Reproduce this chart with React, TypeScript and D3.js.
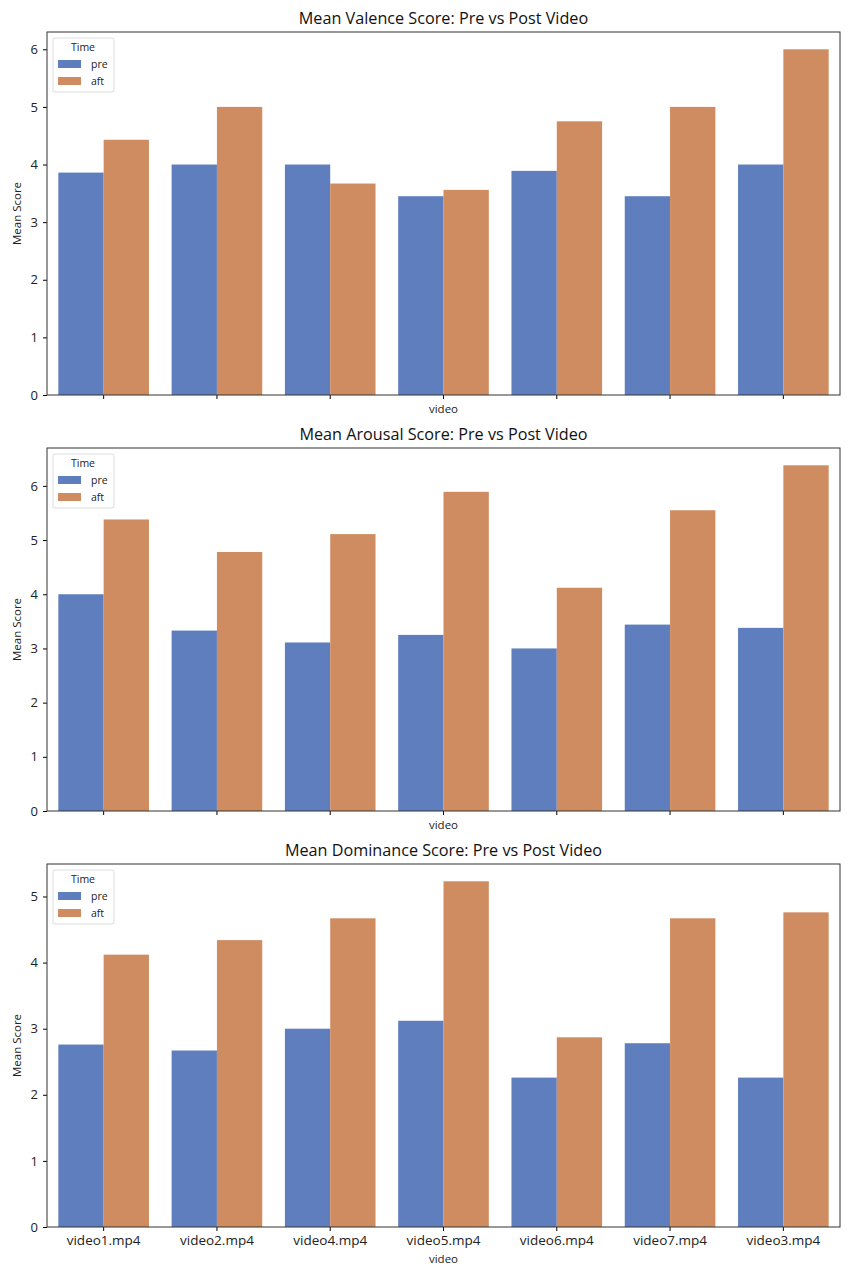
import React, { useEffect, useRef } from "react";
import * as d3 from "d3";

const videos = [
  "video1.mp4",
  "video2.mp4",
  "video4.mp4",
  "video5.mp4",
  "video6.mp4",
  "video7.mp4",
  "video3.mp4",
];
const timeGroups = ["pre", "aft"];

const valencePre = [3.86, 4.0, 4.0, 3.45, 3.89, 3.45, 4.0];
const valenceAft = [4.43, 5.0, 3.67, 3.56, 4.75, 5.0, 6.0];
const arousalPre = [4.0, 3.33, 3.11, 3.25, 3.0, 3.44, 3.38];
const arousalAft = [5.38, 4.78, 5.11, 5.89, 4.12, 5.55, 6.38];
const dominancePre = [2.76, 2.67, 3.0, 3.12, 2.26, 2.78, 2.26];
const dominanceAft = [4.12, 4.34, 4.67, 5.23, 2.87, 4.67, 4.76];

const panels = [
  { title: "Mean Valence Score: Pre vs Post Video", pre: valencePre, aft: valenceAft, ticks: [0, 1, 2, 3, 4, 5, 6] },
  { title: "Mean Arousal Score: Pre vs Post Video", pre: arousalPre, aft: arousalAft, ticks: [0, 1, 2, 3, 4, 5, 6] },
  { title: "Mean Dominance Score: Pre vs Post Video", pre: dominancePre, aft: dominanceAft, ticks: [0, 1, 2, 3, 4, 5] },
];

const colors = ["#5f7ebe", "#cf8c60"];
const font = "'Open Sans', sans-serif";

const App: React.FC = () => {
  const svgRef = useRef<SVGSVGElement | null>(null);

  const width = 853;
  const height = 1280;

  useEffect(() => {
    const svg = d3.select(svgRef.current);
    svg.selectAll("*").remove();

    const left = 47;
    const right = 840;
    const panelTop = [32, 448, 864];
    const plotH = 363;

    panels.forEach((p, i) => {
      const top = panelTop[i];
      const bottom = top + plotH;
      const g = svg.append("g");

      const maxVal = d3.max([...p.pre, ...p.aft]) as number;
      const y = d3.scaleLinear().domain([0, maxVal * 1.05]).range([bottom, top]);
      const x = d3.scaleBand().domain(videos).range([left, right]).paddingInner(0).paddingOuter(0);
      const inner = d3
        .scaleBand()
        .domain(timeGroups)
        .range([x.bandwidth() * 0.1, x.bandwidth() * 0.9]);

      const rows = videos.flatMap((v, j) => [
        { video: v, time: "pre", value: p.pre[j] },
        { video: v, time: "aft", value: p.aft[j] },
      ]);

      g.selectAll(".bar")
        .data(rows)
        .enter()
        .append("rect")
        .attr("x", (d) => (x(d.video) as number) + (inner(d.time) as number))
        .attr("width", inner.bandwidth())
        .attr("y", (d) => y(d.value))
        .attr("height", (d) => bottom - y(d.value))
        .attr("fill", (d) => colors[timeGroups.indexOf(d.time)]);

      // y axis
      const yAxis = d3.axisLeft(y).tickValues(p.ticks).tickSize(4).tickPadding(5).tickFormat(d3.format("d"));
      g.append("g")
        .attr("transform", `translate(${left},0)`)
        .call(yAxis)
        .call((a) => a.select(".domain").remove())
        .selectAll("text")
        .attr("font-size", 13)
        .attr("font-family", font)
        .attr("fill", "#222");

      // x axis
      const xAxis = d3.axisBottom(x).tickSize(4).tickPadding(4);
      const xg = g
        .append("g")
        .attr("transform", `translate(0,${bottom})`)
        .call(xAxis)
        .call((a) => a.select(".domain").remove());
      xg.selectAll("text")
        .attr("font-size", 13.5)
        .attr("font-family", font)
        .attr("fill", "#222")
        .text((d: any) => (i === 2 ? d : ""));

      // frame
      g.append("rect")
        .attr("x", left)
        .attr("y", top)
        .attr("width", right - left)
        .attr("height", plotH)
        .attr("fill", "none")
        .attr("stroke", "#333")
        .attr("stroke-width", 1);

      g.append("text")
        .attr("x", (left + right) / 2)
        .attr("y", top - 8)
        .attr("text-anchor", "middle")
        .attr("font-size", 16.2)
        .attr("font-family", font)
        .attr("fill", "#111")
        .text(p.title);

      g.append("text")
        .attr("x", (left + right) / 2)
        .attr("y", bottom + (i === 2 ? 36 : 18))
        .attr("text-anchor", "middle")
        .attr("font-size", 11.5)
        .attr("font-family", font)
        .attr("fill", "#222")
        .text("video");

      g.append("text")
        .attr("transform", `translate(21,${(top + bottom) / 2}) rotate(-90)`)
        .attr("text-anchor", "middle")
        .attr("font-size", 11.5)
        .attr("font-family", font)
        .attr("fill", "#222")
        .text("Mean Score");

      // legend
      const lg = g.append("g").attr("transform", `translate(${left + 6},${top + 6})`);
      lg.append("rect")
        .attr("width", 61)
        .attr("height", 54)
        .attr("rx", 2)
        .attr("fill", "white")
        .attr("fill-opacity", 0.8)
        .attr("stroke", "#ddd");
      lg.append("text")
        .attr("x", 30)
        .attr("y", 13)
        .attr("text-anchor", "middle")
        .attr("font-size", 10.5)
        .attr("font-family", font)
        .attr("fill", "#222")
        .text("Time");
      timeGroups.forEach((t, k) => {
        lg.append("rect")
          .attr("x", 5)
          .attr("y", 22 + k * 17)
          .attr("width", 23)
          .attr("height", 8)
          .attr("fill", colors[k]);
        lg.append("text")
          .attr("x", 38)
          .attr("y", 30 + k * 17)
          .attr("font-size", 10.5)
          .attr("font-family", font)
          .attr("fill", "#222")
          .text(t);
      });
    });
  }, []);

  return (
    <svg
      ref={svgRef}
      width={width}
      height={height}
      style={{ position: "absolute", left: 0, top: 0, background: "white" }}
    ></svg>
  );
};

export default App;
